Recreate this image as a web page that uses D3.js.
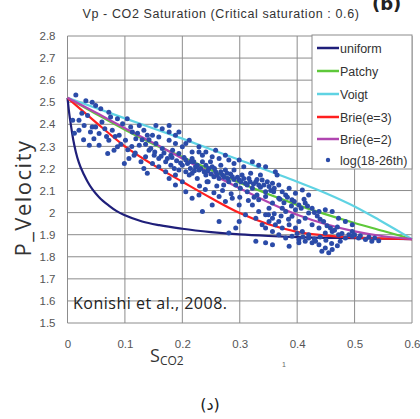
<!DOCTYPE html>
<html><head><meta charset="utf-8">
<script src="https://cdn.jsdelivr.net/npm/d3@7"></script>
<style>body{margin:0;background:#fff}svg{display:block}</style>
</head><body>
<svg id="c" width="420" height="419"></svg>
<script>
// ---- data ----
const xTicks = [0, 0.1, 0.2, 0.3, 0.4, 0.5, 0.6];
const yTicks = [1.5,1.6,1.7,1.8,1.9,2.0,2.1,2.2,2.3,2.4,2.5,2.6,2.7,2.8];
const seriesNames = ["uniform","Patchy","Voigt","Brie(e=3)","Brie(e=2)","log(18-26th)"];
const uniform = [[0,2.52],[0.003,2.45],[0.006,2.395],[0.01,2.33],[0.0145,2.275],[0.02,2.225],[0.029,2.17],[0.035,2.14],[0.0435,2.105],[0.055,2.07],[0.072,2.032],[0.085,2.008],[0.1,1.988],[0.13,1.96],[0.16,1.943],[0.2,1.927],[0.25,1.912],[0.3,1.901],[0.35,1.894],[0.4,1.889],[0.5,1.884],[0.6,1.88]];
const patchy = [[0,2.52],[0.05,2.447],[0.1,2.375],[0.15,2.31],[0.2,2.252],[0.3,2.135],[0.4,2.035],[0.5,1.953],[0.55,1.917],[0.6,1.88]];
const voigt = [[0,2.52],[0.1,2.427],[0.2,2.335],[0.3,2.238],[0.4,2.14],[0.45,2.088],[0.5,2.028],[0.542,1.968],[0.57,1.926],[0.6,1.88]];
const brie3 = [[0,2.52],[0.05,2.408],[0.1,2.3],[0.15,2.215],[0.2,2.14],[0.25,2.066],[0.3,1.998],[0.35,1.947],[0.4,1.913],[0.45,1.896],[0.5,1.888],[0.6,1.88]];
const brie2 = [[0,2.52],[0.05,2.452],[0.1,2.382],[0.15,2.315],[0.2,2.245],[0.3,2.11],[0.4,1.99],[0.5,1.915],[0.55,1.893],[0.6,1.88]];
const logS = [0.0145,0.032,0.043,0.049,0.058,0.072,0.075,0.009,0.02,0.029,0.043,0.04,0.02,0.055,0.046,0.038,0.055,0.049,0.07,0.081,0.087,0.072,0.078,0.087,0.096,0.104,0.11,0.113,0.09,0.101,0.119,0.125,0.099,0.107,0.116,0.128,0.133,0.139,0.125,0.133,0.139,
0.154,0.165,0.177,0.188,0.159,0.177,0.188,0.2,0.206,0.154,0.165,0.142,0.151,0.159,
0.171,0.18,0.186,0.194,0.2,0.206,0.214,0.217,0.223,0.229,0.235,0.241,0.246,0.252,0.258,0.264,0.27,0.275,0.281,0.287,0.293,0.299,0.304,0.31,0.316,0.322,0.328,0.333,0.339,0.345,0.351,0.357,0.362,0.365,0.345,0.333,0.322,0.299,0.281,0.264,0.252,0.235,0.229,0.217,0.206,0.194,0.183,
0.177,0.188,0.2,0.206,0.217,0.229,0.235,0.252,0.264,0.275,0.287,0.299,0.31,0.299,0.293,0.281,0.264,
0.333,0.345,0.357,0.368,0.38,0.391,0.403,0.414,0.426,0.438,0.449,0.461,0.472,0.484,0.496,0.507,0.519,0.53,0.542,0.345,0.357,0.368,0.38,0.391,0.403,0.414,0.426,0.438,0.449,0.461,0.455,0.443,0.432,0.42,0.409,0.397,0.386,0.374,0.362,0.351,0.339,0.328,0.322,0.333,0.345,0.357,0.368,0.38,0.391,0.403,0.414,0.426,0.438,0.449,0.461,0.472,0.484,0.496,0.496,0.42,0.397,0.374,0.351,0.328,0.345,0.357,0.386,0.403,
0.212,0.226,0.243,0.255,0.272,0.278,0.29,0.301,0.313,0.319,0.33,0.336,0.348,0.359,0.368,0.374,0.386,0.397,0.409,0.42,0.241,0.249,0.267,0.29,0.307,0.188,0.171,0.159,0.148,0.22,0.18,0.136,
0.217,0.229,0.241,0.258,0.275,0.212,0.194,0.177,
0.145,0.152,0.163,0.168,0.174,0.182,0.19,0.197,0.203,0.209,0.215,0.221,0.226,0.232,0.238,0.244,0.25,0.256,0.261,0.267,0.273,0.279,0.284,0.29,0.296,0.302,0.307,0.313,0.318,0.324,0.33,0.336,0.342,0.354,0.36,
0.37,0.377,0.383,0.39,0.395,0.407,0.412,0.418,0.43,0.435,0.44,0.446,0.452,0.458,0.465,0.47,0.478,0.49,0.5,0.51,0.525,0.535,
0.35,0.36,0.372,0.385,0.4,0.41,0.42,0.43,0.44,0.45,0.46,0.47,0.475,
0.06,0.065,0.068,0.083,0.093,0.105,0.112,0.118,0.122,0.13,0.136,0.142,0.148,
0.012,0.025,0.035,0.028,
0.23,0.24,0.255,0.27,0.285,0.3,0.315,0.325,0.26,0.245];
const logV = [2.533,2.507,2.5,2.485,2.47,2.455,2.433,2.418,2.418,2.395,2.388,2.365,2.373,2.358,2.335,2.305,2.305,2.388,2.268,2.283,2.298,2.328,2.373,2.425,2.403,2.425,2.388,2.365,2.35,2.328,2.335,2.305,2.223,2.245,2.26,2.23,2.2,2.178,2.395,2.373,2.35,
2.395,2.38,2.365,2.35,2.343,2.328,2.313,2.298,2.313,2.313,2.29,2.283,2.26,2.245,
2.23,2.215,2.2,2.193,2.215,2.185,2.2,2.178,2.208,2.193,2.23,2.17,2.2,2.208,2.185,2.155,2.17,2.193,2.14,2.163,2.125,2.148,2.17,2.133,2.155,2.11,2.14,2.125,2.148,2.095,2.118,2.133,2.185,2.17,2.208,2.215,2.23,2.238,2.238,2.245,2.253,2.26,2.275,2.245,2.238,2.268,2.283,
2.155,2.125,2.14,2.095,2.065,2.08,2.005,2.035,2.073,2.05,2.065,2.035,1.99,1.96,1.93,1.908,1.96,
2.005,1.99,1.975,1.96,2.005,1.983,1.96,1.975,1.945,1.93,1.908,1.915,1.9,1.885,1.893,1.885,1.878,1.87,1.873,1.93,1.915,1.9,1.885,1.893,1.878,1.87,1.863,1.855,1.84,1.833,1.818,1.825,1.87,1.9,1.915,1.93,1.945,1.93,1.945,1.96,1.945,1.975,2.035,2.058,2.073,2.043,2.065,2.08,2.058,2.035,2.043,2.02,2.005,2.013,2.005,1.975,1.96,1.945,1.915,1.998,2.013,2.02,2.02,1.87,1.863,1.855,1.848,1.863,
2.17,2.155,2.14,2.163,2.125,2.178,2.193,2.11,2.095,2.178,2.08,2.17,2.14,2.095,2.125,2.095,2.11,2.088,2.103,2.08,2.215,2.23,2.215,2.223,2.208,2.17,2.185,2.208,2.223,2.23,2.26,2.253,
2.275,2.298,2.275,2.283,2.26,2.328,2.365,2.395,
2.29,2.275,2.255,2.27,2.245,2.25,2.235,2.225,2.25,2.222,2.232,2.19,2.215,2.2,2.185,2.19,2.175,2.2,2.17,2.185,2.16,2.155,2.175,2.15,2.16,2.14,2.155,2.125,2.14,2.13,2.15,2.115,2.125,2.1,2.11,
2.06,2.045,2.07,2.03,2.05,2.02,2.06,2.03,2.0,1.985,1.97,1.96,1.94,1.93,1.92,1.935,1.905,1.9,1.9,1.895,1.89,1.885,
1.99,1.995,1.985,1.97,1.905,1.89,1.885,1.88,1.89,1.875,1.86,1.85,1.87,
2.41,2.38,2.345,2.345,2.31,2.285,2.3,2.27,2.36,2.33,2.31,2.33,2.35,
2.36,2.45,2.44,2.33,
2.12,2.105,2.09,2.1,2.085,2.07,2.055,2.07,2.12,2.14];
const colors = {uniform:"#1f1f7a", Patchy:"#5ec83a", Voigt:"#5fd3e3", brie3:"#ff1f1f", brie2:"#b046b0", log:"#2b4ba8"};

// ---- chart ----
const svg = d3.select("#c");
const x = d3.scaleLinear().domain([0, 0.6]).range([67.5, 412]);
const y = d3.scaleLinear().domain([1.5, 2.8]).range([323, 36]);

// grid
const g = svg.append("g");
g.selectAll("line.v").data(xTicks).join("line")
  .attr("x1", d => x(d)).attr("x2", d => x(d)).attr("y1", y(2.8)).attr("y2", y(1.5))
  .attr("stroke", "#8c8c8c").attr("stroke-width", 1);
g.selectAll("line.h").data(yTicks).join("line")
  .attr("x1", x(0)).attr("x2", x(0.6)).attr("y1", d => y(d)).attr("y2", d => y(d))
  .attr("stroke", "#8c8c8c").attr("stroke-width", 1);

// axes labels
const fmt = d => d3.format("")(+d.toFixed(1));
const ax = svg.append("g").attr("transform", `translate(0,${y(1.5) + 14})`)
  .call(d3.axisBottom(x).tickValues(xTicks).tickFormat(fmt).tickSize(0));
const ay = svg.append("g").attr("transform", `translate(${x(0) - 9},0)`)
  .call(d3.axisLeft(y).tickValues(yTicks).tickFormat(fmt).tickSize(0));
[ax, ay].forEach(a => {
  a.select(".domain").remove();
  a.selectAll("text").attr("font-family", "Liberation Sans, Arial, sans-serif")
    .attr("font-size", 11.5).attr("fill", "#555");
});

// lines
const line = d3.line().x(d => x(d[0])).y(d => y(d[1])).curve(d3.curveMonotoneX);
const lines = [[uniform, colors.uniform],[patchy, colors.Patchy],[voigt, colors.Voigt],[brie3, colors.brie3],[brie2, colors.brie2]];
svg.append("g").selectAll("path").data(lines).join("path")
  .attr("d", d => line(d[0])).attr("fill", "none")
  .attr("stroke", d => d[1]).attr("stroke-width", 2.2);

// scatter
const pts = logS.map((s, i) => [s, logV[i]]);
svg.append("g").selectAll("circle").data(pts).join("circle")
  .attr("cx", d => x(d[0])).attr("cy", d => y(d[1])).attr("r", 2.5)
  .attr("fill", colors.log);

// legend
const lg = svg.append("g");
lg.append("rect").attr("x", 312).attr("y", 35).attr("width", 100).attr("height", 134)
  .attr("fill", "#fff").attr("stroke", "#8c8c8c");
const legCols = [colors.uniform, colors.Patchy, colors.Voigt, colors.brie3, colors.brie2, colors.log];
const legY = [48, 71, 94, 117, 139, 160];
seriesNames.forEach((n, i) => {
  if (i < 5) lg.append("line").attr("x1", 317).attr("x2", 339).attr("y1", legY[i]).attr("y2", legY[i])
    .attr("stroke", legCols[i]).attr("stroke-width", 2.5);
  else lg.append("circle").attr("cx", 328).attr("cy", legY[i]).attr("r", 2.2).attr("fill", legCols[i]);
  lg.append("text").attr("x", 340).attr("y", legY[i] + 4.5).text(n)
    .attr("font-family", "Liberation Sans, Arial, sans-serif").attr("font-size", 12.5).attr("fill", "#333");
});

// texts
svg.append("text").attr("x", 221).attr("y", 18).attr("text-anchor", "middle")
  .attr("font-family", "Liberation Sans, Arial, sans-serif").attr("font-size", 12.5).attr("letter-spacing", 0.6).attr("fill", "#333")
  .text("Vp - CO2 Saturation (Critical saturation : 0.6)");
svg.append("text").attr("x", 372).attr("y", 10).attr("font-family", "DejaVu Sans, sans-serif")
  .attr("font-size", 18).attr("font-weight", "bold").attr("fill", "#222").text("(b)");
svg.append("text").attr("transform", "translate(31,198) rotate(-90)").attr("text-anchor", "middle")
  .attr("font-family", "Open Sans, sans-serif").attr("font-size", 22).attr("letter-spacing", 1.5).attr("fill", "#333").text("P_Velocity");
svg.append("text").attr("x", 73).attr("y", 309).attr("font-family", "Open Sans, sans-serif")
  .attr("font-size", 16).attr("letter-spacing", 0.5).attr("fill", "#222").text("Konishi et al., 2008.");
const xl = svg.append("text").attr("x", 150).attr("y", 362).attr("font-family", "Open Sans, sans-serif")
  .attr("font-size", 18).attr("fill", "#333");
xl.append("tspan").text("S");
xl.append("tspan").attr("font-size", 12).attr("dy", 3).text("CO2");
svg.append("text").attr("x", 282).attr("y", 367).attr("font-family", "Liberation Sans, sans-serif")
  .attr("font-size", 7).attr("fill", "#666").text("1");
svg.append("text").attr("x", 210).attr("y", 410).attr("text-anchor", "middle").attr("font-family", "DejaVu Sans, sans-serif")
  .attr("font-size", 16).attr("fill", "#222").text("(د)");
</script>
</body></html>
